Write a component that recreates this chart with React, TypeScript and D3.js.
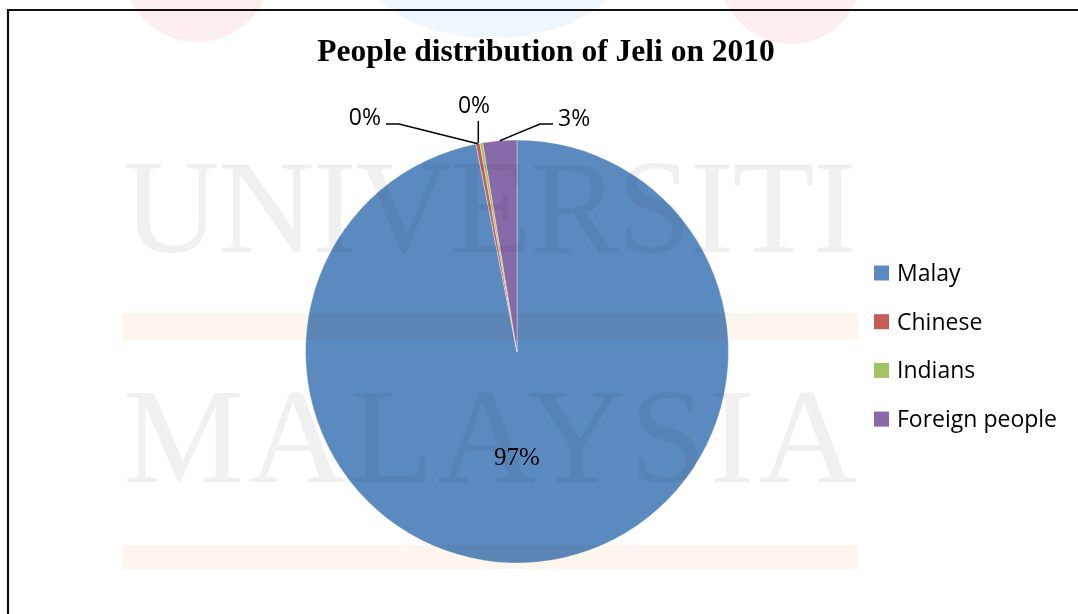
import React from 'react';
import * as d3 from 'd3';

const categories = ['Malay', 'Chinese', 'Indians', 'Foreign people'];
const values = [96.89, 0.3, 0.22, 2.59];
const pctLabels = ['97%', '0%', '0%', '3%'];
const colors = ['#5b8ac1', '#c65b58', '#a3c262', '#876aa8'];
const title = 'People distribution of Jeli on 2010';

const W = 1078;
const H = 614;
const cx = 517;
const cy = 351.5;
const R = 211.5;

// leader-label layout for the small slices (index -> layout)
const outsideLayout: Record<number, { tx: number; ty: number; anchor: string; path: [number, number][] }> = {
  1: { tx: 381, ty: 125, anchor: 'end', path: [[386, 124], [399, 124]] },
  2: { tx: 474, ty: 113, anchor: 'middle', path: [[477, 121]] },
  3: { tx: 558, ty: 126, anchor: 'start', path: [[553, 124], [540, 124]] },
};

export default function App() {
  const pie = d3.pie<number>().sort(null).value((d) => d);
  const arcs = pie(values);
  const arc = d3.arc<d3.PieArcDatum<number>>().innerRadius(0).outerRadius(R);
  const edgeArc = d3.arc<d3.PieArcDatum<number>>().innerRadius(R).outerRadius(R);
  const midArc = d3.arc<d3.PieArcDatum<number>>().innerRadius(0).outerRadius(R);

  const legendX = 874;
  const legendY0 = 273;
  const legendStep = 48.7;
  const sans = "'Open Sans', 'DejaVu Sans', sans-serif";
  const serif = "'Liberation Serif', 'Times New Roman', serif";

  return (
    <svg
      width={W}
      height={H}
      style={{ position: 'absolute', left: 0, top: 0, background: '#fff' }}
    >
      <rect x={0} y={0} width={W} height={H} fill="#ffffff" />
      {/* faint watermark blobs at top */}
      <ellipse cx={197} cy={-32} rx={74} ry={74} fill="#fdeeee" />
      <ellipse cx={493} cy={-44} rx={135} ry={82} fill="#eff6fc" />
      <ellipse cx={791} cy={-30} rx={72} ry={74} fill="#fdeeee" />

      {/* frame */}
      <path d={`M8,${H} L8,10 L${W},10`} fill="none" stroke="#111" strokeWidth={2.2} />

      <text
        x={546}
        y={61}
        textAnchor="middle"
        fontFamily={serif}
        fontWeight="bold"
        fontSize={31.5}
        fill="#000"
      >
        {title}
      </text>

      {/* pie */}
      <g transform={`translate(${cx},${cy})`}>
        {arcs.map((a, i) => (
          <path key={i} d={arc(a) || ''} fill={colors[i]} stroke="#ffffff" strokeWidth={0.6} strokeOpacity={0.6} />
        ))}
      </g>

      {/* watermark overlay (multiply) */}
      <g style={{ mixBlendMode: 'multiply' }}>
        <rect x={122} y={313} width={736} height={27} fill="#fdf6ef" />
        <rect x={122} y={545} width={736} height={24} fill="#fdf6ef" />
        <text
          x={123}
          y={252}
          fontFamily={serif}
          fontSize={134}
          fill="#f0f0f0"
          textLength={734}
          lengthAdjust="spacing"
        >
          UNIVERSITI
        </text>
        <text
          x={123}
          y={482}
          fontFamily={serif}
          fontSize={136}
          fill="#f0f0f0"
          textLength={734}
          lengthAdjust="spacing"
        >
          MALAYSIA
        </text>
      </g>

      {/* inside label */}
      {arcs.map((a, i) => {
        if (outsideLayout[i]) return null;
        const [, my] = midArc.centroid(a);
        return (
          <text
            key={`in${i}`}
            x={cx}
            y={cy + my}
            textAnchor="middle"
            dominantBaseline="central"
            fontFamily={serif}
            fontSize={25}
            fill="#000"
          >
            {pctLabels[i]}
          </text>
        );
      })}

      {/* outside labels with leader lines */}
      {arcs.map((a, i) => {
        const lay = outsideLayout[i];
        if (!lay) return null;
        const [ex, ey] = edgeArc.centroid(a);
        const px = cx + ex;
        const py = cy + ey;
        const pts: [number, number][] =
          i === 2 ? [[px - 3, lay.path[0][1]], [px - 3, py]] : [...lay.path, [px, py]];
        return (
          <g key={`out${i}`}>
            <polyline
              points={pts.map((p) => p.join(',')).join(' ')}
              fill="none"
              stroke="#000"
              strokeWidth={1.5}
            />
            <text
              x={lay.tx}
              y={lay.ty}
              textAnchor={lay.anchor}
              fontFamily={sans}
              fontSize={23}
              fill="#000"
            >
              {pctLabels[i]}
            </text>
          </g>
        );
      })}

      {/* legend */}
      {categories.map((c, i) => (
        <g key={c} transform={`translate(${legendX},${legendY0 + i * legendStep})`}>
          <rect x={0} y={-7.5} width={15} height={15} fill={colors[i]} />
          <text x={23} y={8} fontFamily={sans} fontSize={23} fill="#000">
            {c}
          </text>
        </g>
      ))}
    </svg>
  );
}
